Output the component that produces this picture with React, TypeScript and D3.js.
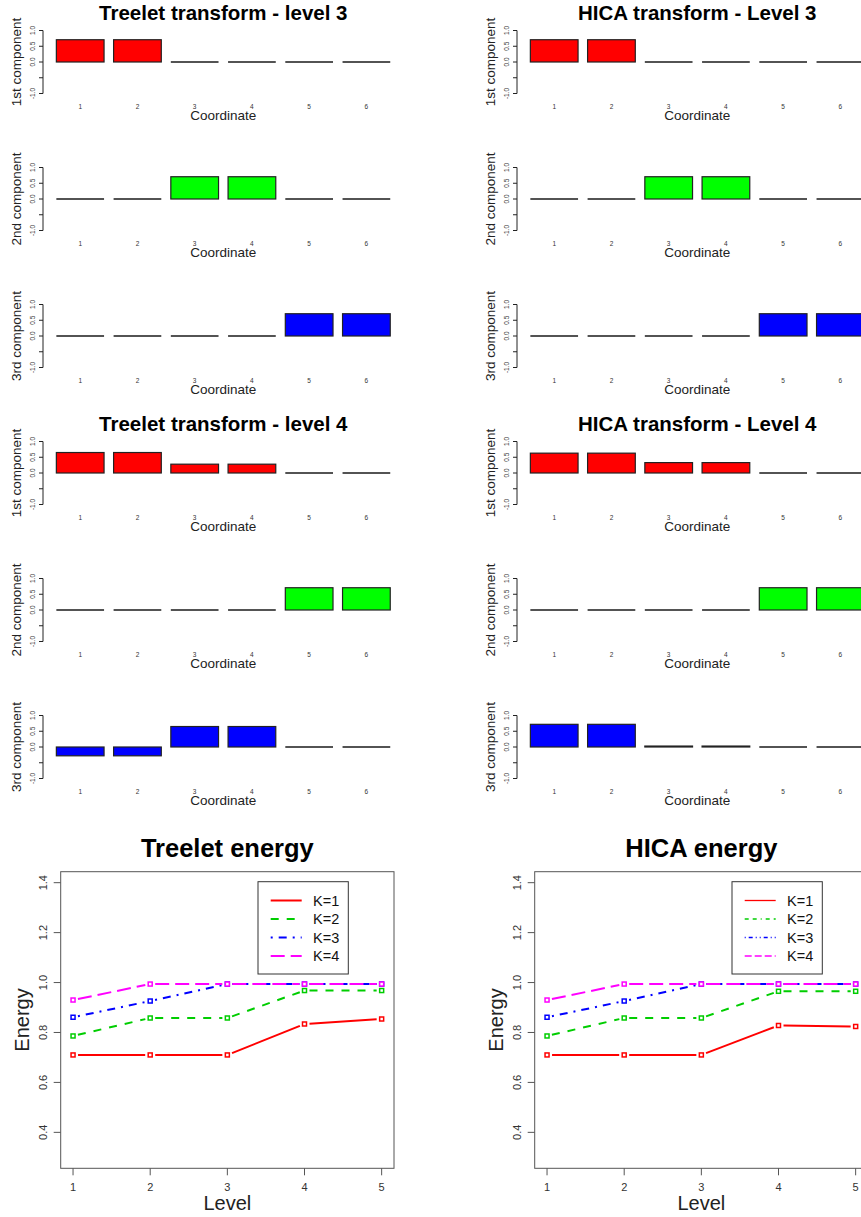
import React from "react";
import * as d3 from "d3";

// bar panels: six coordinates, three components per level
const coords = [1, 2, 3, 4, 5, 6];
const compLabels = ["1st component", "2nd component", "3rd component"];
const compColors = ["#ff0000", "#00ff00", "#0000ff"];
const barTicks = [-1, -0.5, 0, 0.5, 1];

const treeletL3 = [
  [0.707, 0.707, 0, 0, 0, 0],
  [0, 0, 0.707, 0.707, 0, 0],
  [0, 0, 0, 0, 0.707, 0.707],
];
const hicaL3 = [
  [0.707, 0.707, 0, 0, 0, 0],
  [0, 0, 0.707, 0.707, 0, 0],
  [0, 0, 0, 0, 0.707, 0.707],
];
const treeletL4 = [
  [0.65, 0.65, 0.28, 0.28, 0, 0],
  [0, 0, 0, 0, 0.707, 0.707],
  [-0.28, -0.28, 0.65, 0.65, 0, 0],
];
const hicaL4 = [
  [0.63, 0.63, 0.33, 0.33, 0, 0],
  [0, 0, 0, 0, 0.707, 0.707],
  [0.72, 0.72, 0.03, 0.03, 0, 0],
];

// energy panels
const levels = [1, 2, 3, 4, 5];
const energyTicks = [0.4, 0.6, 0.8, 1.0, 1.2, 1.4];
const kLabels = ["K=1", "K=2", "K=3", "K=4"];
const kColors = ["#ff0000", "#00cd00", "#0000ff", "#ff00ff"];
const treeletDash = ["", "8 8", "2 6 8 6", "14 6"];
const hicaLegendDash = ["", "4 4 4 4 1 4", "1 3 4 3 1 3", "7 3"];

const treeletK1 = [0.71, 0.71, 0.71, 0.834, 0.854];
const treeletK2 = [0.786, 0.858, 0.858, 0.968, 0.968];
const treeletK3 = [0.861, 0.926, 0.994, 0.994, 0.994];
const treeletK4 = [0.93, 0.994, 0.994, 0.994, 0.994];
const hicaK1 = [0.71, 0.71, 0.71, 0.828, 0.824];
const hicaK2 = [0.786, 0.858, 0.858, 0.965, 0.965];
const hicaK3 = [0.861, 0.926, 0.994, 0.994, 0.994];
const hicaK4 = [0.93, 0.994, 0.994, 0.994, 0.994];

const FONT = "'Liberation Sans', Arial, sans-serif";
const COL_DX = 474;
const ROW_H = 137;

function BarPanel({ dx, top, values, color, ylab, title }) {
  // R barplot: bars at 0.2 + 1.2*i, width 1, xlim extended 4%
  const x = d3.scaleLinear().domain([-0.08, 7.48]).range([dx + 43, dx + 403.6]);
  const y = d3.scaleLinear().domain([-1, 1]).range([top + 63, top]);
  const cx = (x(0) + x(7.4)) / 2;
  return (
    <g>
      {title && (
        <text x={cx} y={top - 11} textAnchor="middle" fontSize={20.5} fontWeight="bold" fill="#000">
          {title}
        </text>
      )}
      {values.map((v, i) => {
        const x0 = x(0.2 + 1.2 * i);
        const x1 = x(1.2 + 1.2 * i);
        const y0 = y(Math.max(0, v));
        const y1 = y(Math.min(0, v));
        if (y1 - y0 < 0.5) {
          return <line key={i} x1={x0} x2={x1} y1={y(0)} y2={y(0)} stroke="#1a1a1a" strokeWidth={1.3} />;
        }
        return (
          <rect key={i} x={x0} y={y0} width={x1 - x0} height={y1 - y0}
            fill={color} stroke="#222" strokeWidth={1.2} />
        );
      })}
      <line x1={x(-0.08)} x2={x(-0.08)} y1={y(-1)} y2={y(1)} stroke="#222" />
      {barTicks.map((t) => (
        <g key={t}>
          <line x1={x(-0.08) - 4} x2={x(-0.08)} y1={y(t)} y2={y(t)} stroke="#222" />
          {t !== -0.5 && (
            <text transform={`translate(${x(-0.08) - 8},${y(t)}) rotate(-90)`} textAnchor="middle"
              fontSize={6.5} fill="#333">
              {t.toFixed(1)}
            </text>
          )}
        </g>
      ))}
      {coords.map((c, i) => (
        <text key={c} x={x(0.7 + 1.2 * i)} y={top + 78} textAnchor="middle" fontSize={6.5} fill="#333">
          {c}
        </text>
      ))}
      <text x={cx} y={top + 89} textAnchor="middle" fontSize={13.5} fill="#222">Coordinate</text>
      <text transform={`translate(${dx + 21},${y(0)}) rotate(-90)`} textAnchor="middle" fontSize={13.5} fill="#222">
        {ylab}
      </text>
    </g>
  );
}

function EnergyPanel({ dx, title, series, legendDash }) {
  const x = d3.scaleLinear().domain([0.84, 5.16]).range([dx + 60.7, dx + 394]);
  const y = d3.scaleLinear().domain([0.256, 1.444]).range([1168.3, 871.7]);
  const cx = (x(0.84) + x(5.16)) / 2;
  const gap = 5;
  const lx = dx + 258;
  return (
    <g>
      <text x={cx} y={857} textAnchor="middle" fontSize={25.5} fontWeight="bold" fill="#000">{title}</text>
      <rect x={x(0.84)} y={y(1.444)} width={x(5.16) - x(0.84)} height={y(0.256) - y(1.444)}
        fill="none" stroke="#555" />
      {energyTicks.map((t) => (
        <g key={t}>
          <line x1={x(0.84) - 7} x2={x(0.84)} y1={y(t)} y2={y(t)} stroke="#555" />
          <text transform={`translate(${x(0.84) - 14},${y(t)}) rotate(-90)`} textAnchor="middle"
            fontSize={11} fill="#333">
            {t.toFixed(1)}
          </text>
        </g>
      ))}
      {levels.map((l) => (
        <g key={l}>
          <line x1={x(l)} x2={x(l)} y1={y(0.256)} y2={y(0.256) + 7} stroke="#555" />
          <text x={x(l)} y={1191} textAnchor="middle" fontSize={11} fill="#333">{l}</text>
        </g>
      ))}
      <text x={cx} y={1210} textAnchor="middle" fontSize={20} fill="#222">Level</text>
      <text transform={`translate(${dx + 29},${y(0.85)}) rotate(-90)`} textAnchor="middle" fontSize={20} fill="#222">
        Energy
      </text>
      {series.map((vals, k) => (
        <g key={k}>
          {vals.slice(1).map((v, i) => {
            const ax = x(levels[i]), ay = y(vals[i]);
            const bx = x(levels[i + 1]), by = y(v);
            const len = Math.hypot(bx - ax, by - ay);
            const ux = (bx - ax) / len, uy = (by - ay) / len;
            return (
              <line key={i} x1={ax + ux * gap} y1={ay + uy * gap} x2={bx - ux * gap} y2={by - uy * gap}
                stroke={kColors[k]} strokeWidth={2} strokeDasharray={treeletDash[k]} />
            );
          })}
          {vals.map((v, i) => (
            <rect key={i} x={x(levels[i]) - 2} y={y(v) - 2} width={4} height={4}
              fill="#fff" stroke={kColors[k]} strokeWidth={1.5} />
          ))}
        </g>
      ))}
      <rect x={lx} y={881.7} width={90.3} height={92.3} fill="#fff" stroke="#333" />
      {kLabels.map((lab, k) => {
        const ly = 900.5 + k * 18.5;
        return (
          <g key={lab}>
            <line x1={lx + 12.7} x2={lx + 43.7} y1={ly} y2={ly} stroke={kColors[k]}
              strokeWidth={legendDash === treeletDash ? 2 : 1.3} strokeDasharray={legendDash[k]} />
            <text x={lx + 55} y={ly + 5} fontSize={14.5} fill="#111">{lab}</text>
          </g>
        );
      })}
    </g>
  );
}

export default function App() {
  const blocks = [
    { row: 0, left: treeletL3, right: hicaL3, lt: "Treelet transform - level 3", rt: "HICA transform - Level 3" },
    { row: 3, left: treeletL4, right: hicaL4, lt: "Treelet transform - level 4", rt: "HICA transform - Level 4" },
  ];
  return (
    <svg width={861} height={1217} style={{ position: "absolute", left: 0, top: 0, background: "#fff" }}
      fontFamily={FONT}>
      <rect width={861} height={1217} fill="#fff" />
      {blocks.map((b) =>
        [0, 1, 2].map((c) => {
          const top = 30.5 + ROW_H * (b.row + c);
          return (
            <g key={`${b.row}-${c}`}>
              <BarPanel dx={0} top={top} values={b.left[c]} color={compColors[c]} ylab={compLabels[c]}
                title={c === 0 ? b.lt : null} />
              <BarPanel dx={COL_DX} top={top} values={b.right[c]} color={compColors[c]} ylab={compLabels[c]}
                title={c === 0 ? b.rt : null} />
            </g>
          );
        })
      )}
      <EnergyPanel dx={0} title="Treelet energy" series={[treeletK1, treeletK2, treeletK3, treeletK4]}
        legendDash={treeletDash} />
      <EnergyPanel dx={COL_DX} title="HICA energy" series={[hicaK1, hicaK2, hicaK3, hicaK4]}
        legendDash={hicaLegendDash} />
    </svg>
  );
}
